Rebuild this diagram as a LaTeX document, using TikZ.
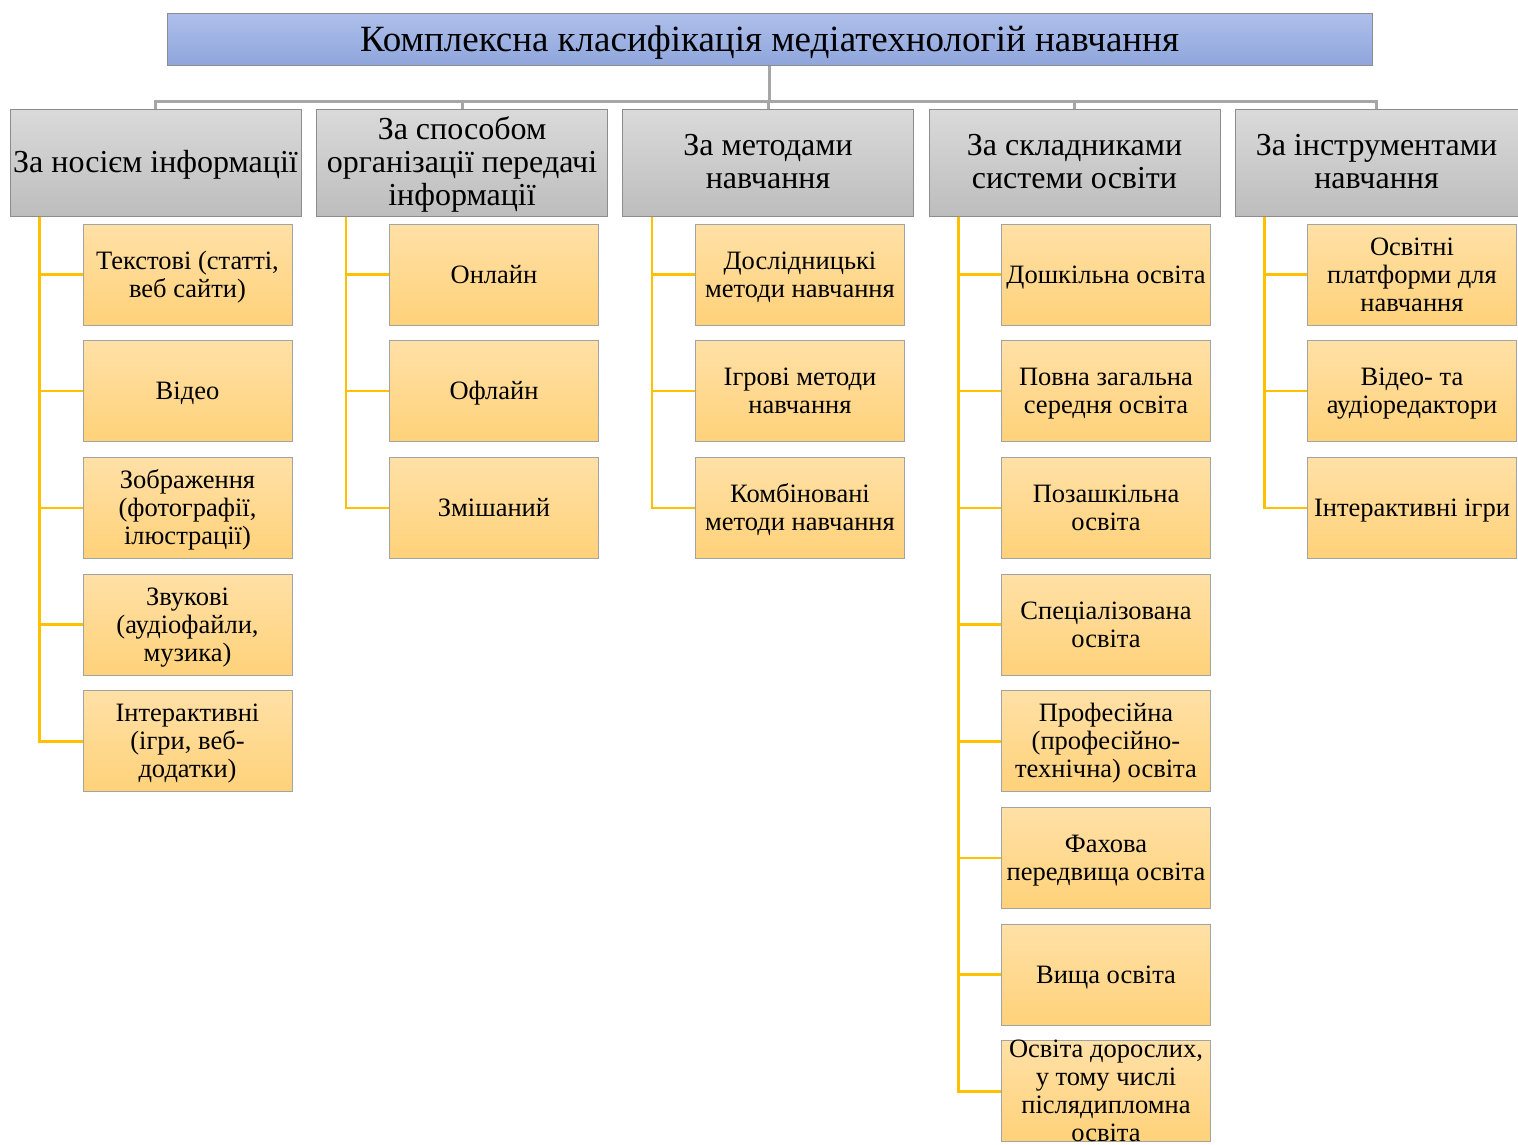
\documentclass[tikz,border=0pt]{standalone}
\usepackage{fontspec}
\setmainfont{Liberation Serif}
\usepackage{tikz}
\usetikzlibrary{calc, positioning, shadings}

\definecolor{titletop}{HTML}{AEBFEA}
\definecolor{titlebot}{HTML}{8FA6DC}
\definecolor{cattop}{HTML}{DADADA}
\definecolor{catbot}{HTML}{BDBDBD}
\definecolor{leaftop}{HTML}{FFE0A6}
\definecolor{leafbot}{HTML}{FFD27A}
\definecolor{edgegray}{HTML}{8C8C8C}
\definecolor{linkgray}{HTML}{A6A6A6}
\definecolor{branch}{HTML}{FFC000}

% text lines, set a little lower in their box
\newcommand\tx[2][3pt]{\raisebox{0pt}[\dimexpr\height+#1\relax][\dimexpr\depth-#1\relax]{\begin{tabular}{@{}c@{}}#2\end{tabular}}}

\tikzset{
  titlebox/.style={draw=edgegray, line width=1pt, top color=titletop, bottom color=titlebot,
    minimum width=1205, minimum height=52, inner sep=0pt, font=\fontsize{37}{40}\selectfont},
  catbox/.style={draw=edgegray, line width=1pt, top color=cattop, bottom color=catbot,
    minimum width=291, minimum height=107, inner sep=0pt,
    font=\fontsize{32}{33}\selectfont},
  leafbox/.style={draw=edgegray!80, line width=1pt, top color=leaftop, bottom color=leafbot,
    minimum width=209, minimum height=101, inner sep=0pt,
    font=\fontsize{26.5}{28}\selectfont},
  gline/.style={draw=linkgray, line width=3pt},
  yline/.style={draw=branch, line width=2.5pt}
}

\begin{document}
\begin{tikzpicture}[x=1pt, y=-1pt]
	\useasboundingbox (0,0) rectangle (1518,1144);

	% Title
	\node[titlebox] (title) at (769.5,39) {\tx[4pt]{Комплексна класифікація медіатехнологій навчання}};

	% Categories
	\node[catbox] (cat1) at (155.5,162.5) {\tx{За носієм інформації}};
	\node[catbox] (cat2) at (462,162.5) {\tx{За способом\\організації передачі\\інформації}};
	\node[catbox] (cat3) at (768,162.5) {\tx{За методами\\навчання}};
	\node[catbox] (cat4) at (1074.5,162.5) {\tx{За складниками\\системи освіти}};
	\node[catbox, minimum width=283] (cat5) at (1376.5,162.5) {\tx{За інструментами\\навчання}};

	% Title to categories
	\draw[gline] (title.south) -- ++(0,37)
		(cat1.north) -- ++(0,-7) -| (cat5.north)
		(cat2.north) -- ++(0,-7)
		(cat3.north) -- ++(0,-7)
		(cat4.north) -- ++(0,-7);

	% Column 1
	\node[leafbox] (c1a) at (187.5,274.5) {\tx{Текстові (статті,\\веб сайти)}};
	\node[leafbox] (c1b) at (187.5,391.2) {\tx{Відео}};
	\node[leafbox] (c1c) at (187.5,507.9) {\tx{Зображення\\(фотографії,\\ілюстрації)}};
	\node[leafbox] (c1d) at (187.5,624.6) {\tx{Звукові\\(аудіофайли,\\музика)}};
	\node[leafbox] (c1e) at (187.5,741.3) {\tx{Інтерактивні\\(ігри, веб-\\додатки)}};

	% Column 2
	\node[leafbox] (c2a) at (494,274.5) {\tx{Онлайн}};
	\node[leafbox] (c2b) at (494,391.2) {\tx{Офлайн}};
	\node[leafbox] (c2c) at (494,507.9) {\tx{Змішаний}};

	% Column 3
	\node[leafbox] (c3a) at (800,274.5) {\tx{Дослідницькі\\методи навчання}};
	\node[leafbox] (c3b) at (800,391.2) {\tx{Ігрові методи\\навчання}};
	\node[leafbox] (c3c) at (800,507.9) {\tx{Комбіновані\\методи навчання}};

	% Column 4
	\node[leafbox] (c4a) at (1106,274.5) {\tx{Дошкільна освіта}};
	\node[leafbox] (c4b) at (1106,391.2) {\tx{Повна загальна\\середня освіта}};
	\node[leafbox] (c4c) at (1106,507.9) {\tx{Позашкільна\\освіта}};
	\node[leafbox] (c4d) at (1106,624.6) {\tx{Спеціалізована\\освіта}};
	\node[leafbox] (c4e) at (1106,741.3) {\tx{Професійна\\(професійно-\\технічна) освіта}};
	\node[leafbox] (c4f) at (1106,858.0) {\tx{Фахова\\передвища освіта}};
	\node[leafbox] (c4g) at (1106,974.7) {\tx{Вища освіта}};
	% four lines run past the box, as in the source
	\node[leafbox] (c4h) at (1106,1091.4) {\raisebox{0pt}[49pt][31pt]{\tx[0pt]{Освіта дорослих,\\у тому числі\\післядипломна\\освіта}}};

	% Column 5
	\node[leafbox] (c5a) at (1412,274.5) {\tx{Освітні\\платформи для\\навчання}};
	\node[leafbox] (c5b) at (1412,391.2) {\tx{Відео- та\\аудіоредактори}};
	\node[leafbox] (c5c) at (1412,507.9) {\tx{Інтерактивні ігри}};

	% Branches
	\foreach \c/\list in {cat1/{c1a,c1b,c1c,c1d,c1e}, cat2/{c2a,c2b,c2c}, cat3/{c3a,c3b,c3c},
		cat4/{c4a,c4b,c4c,c4d,c4e,c4f,c4g,c4h}, cat5/{c5a,c5b,c5c}}
		\foreach \l in \list
			\draw[yline] ($(\c.south west)+(30,0)$) |- (\l.west);
\end{tikzpicture}
\end{document}
